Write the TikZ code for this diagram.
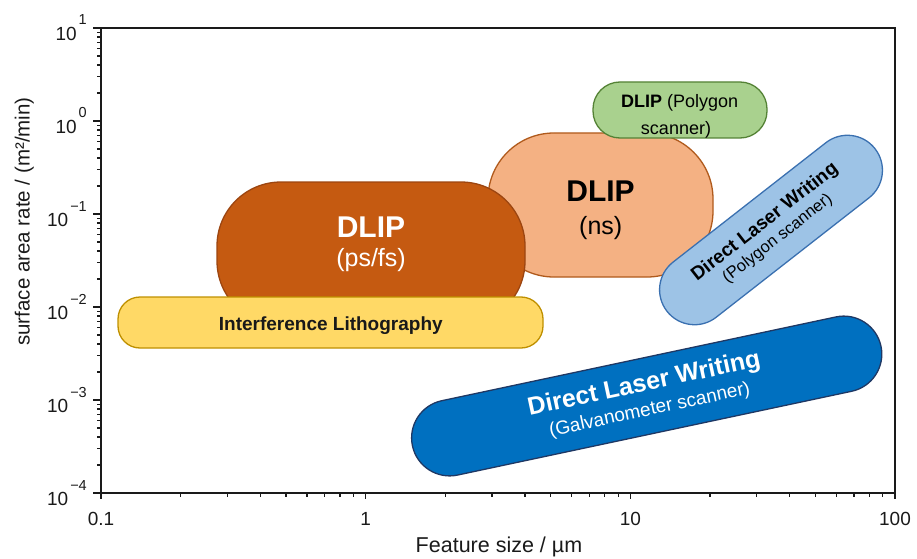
\documentclass[tikz,border=0pt]{standalone}
\usepackage{fontspec}
\setmainfont{Liberation Sans}
\usetikzlibrary{positioning}
\definecolor{srIL}{HTML}{FFD966}
\definecolor{srILedge}{HTML}{BF9000}
\definecolor{srPs}{HTML}{C55A11}
\definecolor{srPsedge}{HTML}{9C4510}
\definecolor{srNs}{HTML}{F4B183}
\definecolor{srNsedge}{HTML}{B05A1C}
\definecolor{srPoly}{HTML}{A9D18E}
\definecolor{srPolyedge}{HTML}{548235}
\definecolor{srDlw}{HTML}{9DC3E6}
\definecolor{srDlwedge}{HTML}{3A70B0}
\definecolor{srGalvo}{HTML}{0070C0}
\definecolor{srGalvoedge}{HTML}{1F3864}
\definecolor{srAxis}{HTML}{1A1A1A}
\newcommand{\fsz}[1]{\fontsize{#1}{#1}\selectfont}
\newcommand{\decade}[1]{10\hspace{2pt}\raisebox{15.5pt}{\fsz{14.5}#1}}
\tikzset{
  blob/.style={draw, line width=1.3pt, inner sep=0pt, align=center},
  ilbox/.style={blob, fill=srIL, draw=srILedge},
  psbox/.style={blob, fill=srPs, draw=srPsedge},
  nsbox/.style={blob, fill=srNs, draw=srNsedge},
  polybox/.style={blob, fill=srPoly, draw=srPolyedge},
  dlwbox/.style={blob, fill=srDlw, draw=srDlwedge},
  galvobox/.style={blob, fill=srGalvo, draw=srGalvoedge, text=white},
  blobtext/.style={inner sep=0pt, anchor=base},
  axisline/.style={line width=1.8pt, srAxis},
  majortick/.style={line width=1.3pt, srAxis},
  minortick/.style={line width=1.1pt, srAxis},
  ticklab/.style={inner sep=0pt, font=\fsz{19}, text=srAxis},
  axistitle/.style={inner sep=0pt, anchor=base, text=srAxis}
}
\begin{document}
\begin{tikzpicture}[x=1pt, y=1pt]
  \useasboundingbox (0,0) rectangle (917,558);
  % process regions, back to front
  \node[nsbox, minimum width=225pt, minimum height=144pt, rounded corners=66pt] (dlipns) at (600.5,353) {};
  \node[polybox, minimum width=174pt, minimum height=56pt, rounded corners=27pt] (dlippoly) at (680,448) {};
  \node[psbox, minimum width=308pt, minimum height=143pt, rounded corners=64pt] (dlipps) at (371,304.5) {};
  \node[ilbox, minimum width=425pt, minimum height=51pt, rounded corners=22pt] (interf) at (330.5,235.5) {};
  \node[dlwbox, rotate=38, minimum width=264pt, minimum height=70pt, rounded corners=35pt,
    font=\fontsize{16.5}{20}\selectfont] (dlwpoly) at (771,328)
    {{\fsz{19}\bfseries Direct Laser Writing}\\(Polygon scanner)};
  \node[galvobox, rotate=12, minimum width=479pt, minimum height=76pt, rounded corners=38pt,
    font=\fontsize{19}{25}\selectfont] (dlwgalvo) at (646.7,162)
    {{\fsz{25}\bfseries Direct Laser Writing}\\(Galvanometer scanner)};
  % region texts
  \node[blobtext, font=\fsz{30}\bfseries] (dlipns-a) at (600.5,356.3) {DLIP};
  \node[blobtext, font=\fsz{25}] (dlipns-b) at (600.7,323.7) {(ns)};
  \node[blobtext, font=\fsz{18}] (dlippoly-a) at (679.7,450.5) {\textbf{DLIP} (Polygon};
  \node[blobtext, font=\fsz{18}] (dlippoly-b) at (676,424) {scanner)};
  \node[blobtext, font=\fsz{30}\bfseries, text=white] (dlipps-a) at (371,321) {DLIP};
  \node[blobtext, font=\fsz{25}, text=white] (dlipps-b) at (371,291.3) {(ps/fs)};
  \node[blobtext, font=\fsz{19}\bfseries, text=black!90] (interf-a) at (330.8,227.3) {Interference Lithography};
  % axes
  \draw[axisline] (101,65) rectangle (895,530);
  \foreach \e in {-4,...,1} {
    \pgfmathtruncatemacro{\absE}{abs(\e)}
    \draw[majortick] (101,{65+93*(\e+4)}) -- ++(-8,0);
    \node[ticklab, anchor=base east] (ylab\e) at (87,{65+93*(\e+4)-12.5})
      {\decade{\ifnum\e<0 −\fi\absE}};
  }
  \foreach \e in {-4,...,0}
    \foreach \m in {2,...,9}
      \draw[minortick] (101,{65+93*(\e+4+log10(\m))}) -- ++(-4.5,0);
  \foreach \d/\lab in {0/0.1, 1/1, 2/10, 3/100} {
    \draw[majortick] ({101+264.67*\d},65) -- ++(0,-6);
    \node[ticklab, anchor=base] (xlab\d) at ({101+264.67*\d},33) {\lab};
  }
  \foreach \d in {0,1,2}
    \foreach \m in {2,...,9}
      \draw[minortick] ({101+264.67*(\d+log10(\m))},65) -- ++(0,-3.5);
  \node[axistitle, font=\fsz{21.5}] (xtitle) at (499,6) {Feature size / µm};
  \node[axistitle, font=\fsz{20.5}, rotate=90] (ytitle) at (29.5,336.5) {surface area rate / (m²/min)};
\end{tikzpicture}
\end{document}
